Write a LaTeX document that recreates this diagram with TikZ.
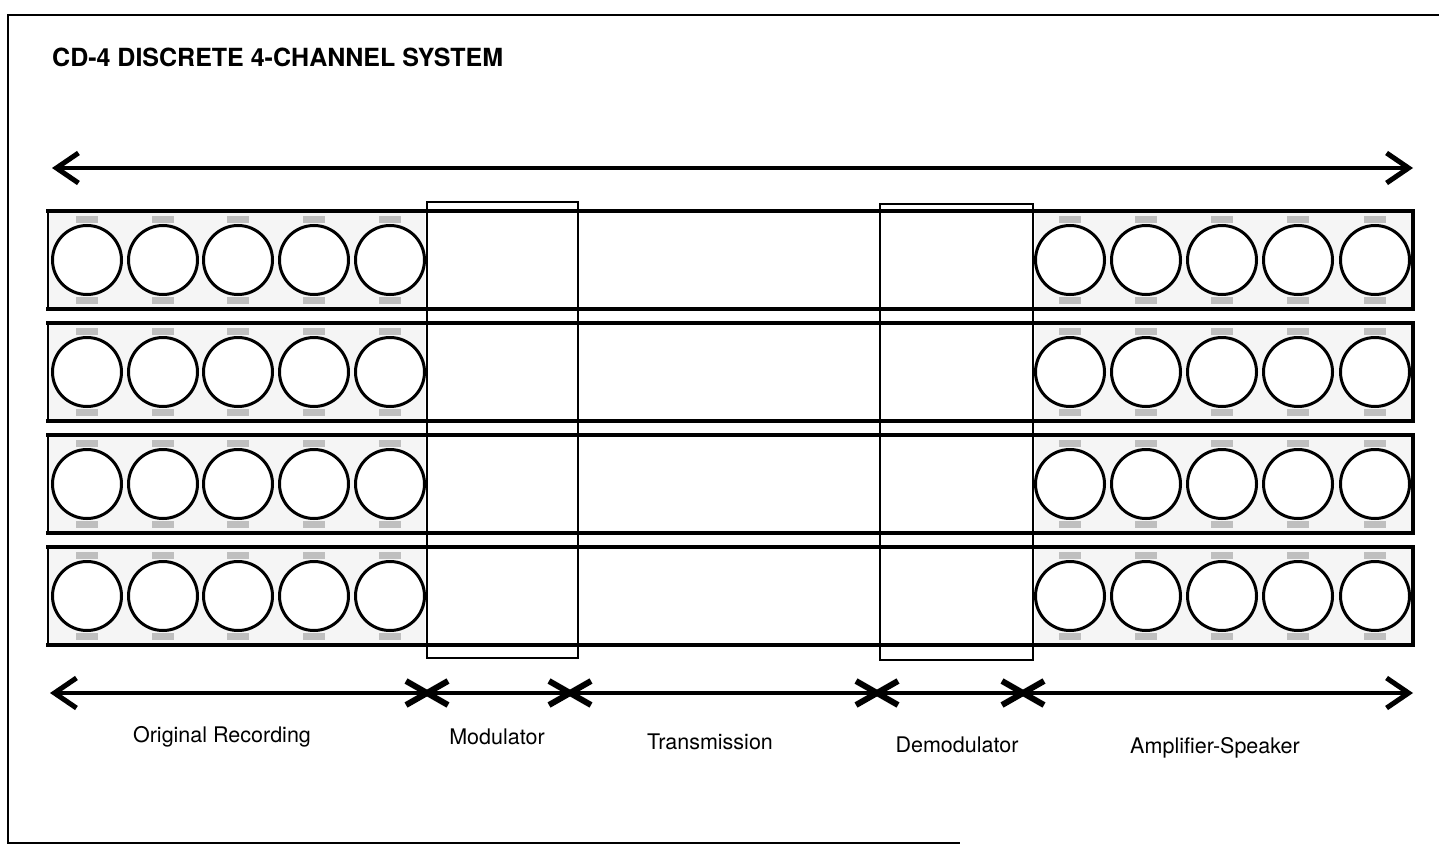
\documentclass[tikz,border=0pt]{standalone}
\usepackage{fontspec}
\setmainfont{TeX Gyre Heros}
\usetikzlibrary{arrows.meta}

\begin{document}
\begin{tikzpicture}[
  x=1pt, y=-1pt,
  cornice/.style={draw=black, line width=1.6pt},
  bandedge/.style={draw=black, line width=4.5pt},
  bandside/.style={draw=black, line width=2pt},
  panel/.style={fill=black!4},
  patch/.style={fill=black!25},
  speaker/.style={circle, draw=black, fill=white, line width=3pt, inner sep=0pt, minimum size=69pt},
  stage/.style={draw=black, line width=1.6pt, inner sep=0pt},
  span/.style={line width=4pt, {Straight Barb[length=22pt,width=30pt,line width=5pt]}-{Straight Barb[length=22pt,width=30pt,line width=5pt]}},
  cross/.style={line width=6pt},
  etichetta/.style={inner sep=1pt, font=\fontsize{21.5}{25}\selectfont},
  titolo/.style={inner sep=0pt, font=\bfseries\fontsize{25}{29}\selectfont}
]
\useasboundingbox (0,0) rectangle (1439,848);

%--------------------------------------------------------------
% Cornice e titolo
%--------------------------------------------------------------
\draw[cornice] (1439,15) -- (8,15) -- (8,843) -- (960,843);
\node[titolo, anchor=west] (title) at (52,57) {CD-4 DISCRETE 4-CHANNEL SYSTEM};

%--------------------------------------------------------------
% Freccia superiore
%--------------------------------------------------------------
\coordinate (topL) at (52,168);
\coordinate (topR) at (1413,168);
\draw[span] (topL) -- (topR);

%--------------------------------------------------------------
% Quattro canali: fondo grigio, bordi, altoparlanti
%--------------------------------------------------------------
\foreach \r/\t in {1/211, 2/323, 3/435, 4/547} {
  \pgfmathsetmacro\b{\t+98}
  \pgfmathsetmacro\c{\t+49}
  \fill[panel] (48,\t) rectangle (425,\b);
  \fill[panel] (1035,\t) rectangle (1413,\b);
  \foreach \i/\x in {1/87, 2/163, 3/238, 4/314, 5/390} {
    \fill[patch] (\x-11,\t+5) rectangle (\x+11,\t+12);
    \fill[patch] (\x-11,\b-12) rectangle (\x+11,\b-5);
    \node[speaker] (in\r-\i) at (\x,\c) {};
  }
  \foreach \i/\x in {1/1070, 2/1146, 3/1222, 4/1298, 5/1375} {
    \fill[patch] (\x-11,\t+5) rectangle (\x+11,\t+12);
    \fill[patch] (\x-11,\b-12) rectangle (\x+11,\b-5);
    \node[speaker] (out\r-\i) at (\x,\c) {};
  }
  \draw[bandedge] (46,\t) -- (1415,\t);
  \draw[bandedge] (46,\b) -- (1415,\b);
  \draw[bandside] (48,\t) -- (48,\b);
  \draw[bandedge] (1413,\t) -- (1413,\b);
}

%--------------------------------------------------------------
% Modulatore e demodulatore
%--------------------------------------------------------------
\node[stage, minimum width=151pt, minimum height=456pt] (mod) at (502.5,430) {};
\node[stage, minimum width=153pt, minimum height=456pt] (demod) at (956.5,432) {};

%--------------------------------------------------------------
% Freccia inferiore con le divisioni
%--------------------------------------------------------------
\coordinate (botL) at (50,693);
\coordinate (botR) at (1413,693);
\coordinate (x1) at (427,693);
\coordinate (x2) at (570,693);
\coordinate (x3) at (877,693);
\coordinate (x4) at (1023,693);
\draw[span] (botL) -- (botR);
\foreach \p in {x1,x2,x3,x4} {
  \draw[cross] ([shift={(-21,-12)}]\p) -- ([shift={(21,12)}]\p);
  \draw[cross] ([shift={(-21,12)}]\p) -- ([shift={(21,-12)}]\p);
}

\node[etichetta] (orig) at (222,737) {Original Recording};
\node[etichetta] (modl) at (497,737) {Modulator};
\node[etichetta] (trans) at (710,742) {Transmission};
\node[etichetta] (demodl) at (957,745) {Demodulator};
\node[etichetta] (amp) at (1215,748) {Amplifier-Speaker};

\end{tikzpicture}
\end{document}
